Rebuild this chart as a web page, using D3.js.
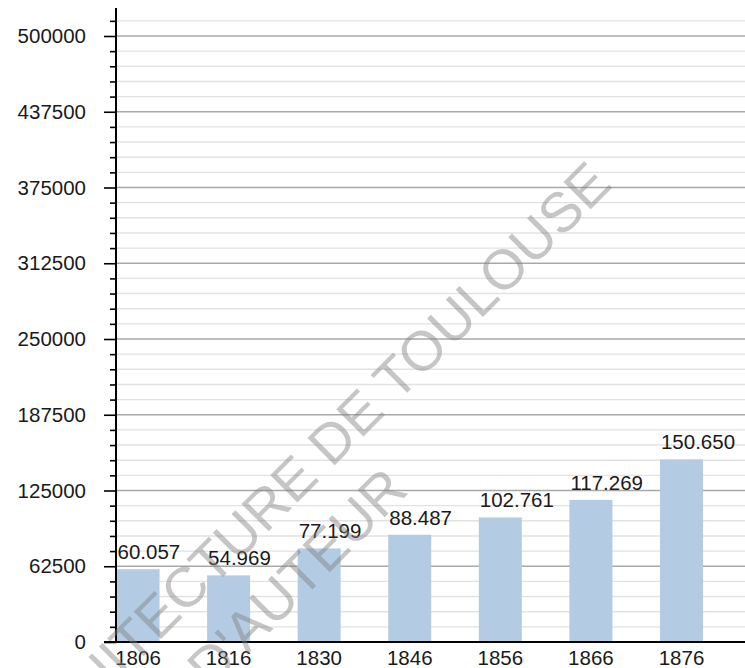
<!DOCTYPE html>
<html>
<head>
<meta charset="utf-8">
<script src="https://cdn.jsdelivr.net/npm/d3@7/dist/d3.min.js"></script>
<style>
  html, body { margin: 0; padding: 0; background: #fff; }
  svg { display: block; font-family: "Liberation Sans", Arial, sans-serif; }
</style>
</head>
<body>
<svg id="chart" width="745" height="668"></svg>
<script>
const years = ["1806", "1816", "1830", "1846", "1856", "1866", "1876"];
const population = [60057, 54969, 77199, 88487, 102761, 117269, 150650];
const yTicks = [0, 62500, 125000, 187500, 250000, 312500, 375000, 437500, 500000];
const watermarkLines = ["ARCHITECTURE DE TOULOUSE", "D'AUTEUR"];

const svg = d3.select("#chart");
const W = 745, H = 668;
const axisX = 116, axisTop = 8;

const y = d3.scaleLinear().domain([0, 500000]).range([642, 36]);
const x = d3.scaleBand().domain(years).range([116.5, 703]).paddingInner(0.525).paddingOuter(0);

const minorVals = d3.range(0, 512501, 12500);
const fmt = d3.formatLocale({decimal: ",", thousands: ".", grouping: [3], currency: ["", ""]}).format(",d");

// gridlines
svg.append("g").selectAll("line").data(minorVals.filter(v => v % 62500 !== 0))
  .join("line")
  .attr("x1", axisX).attr("x2", W)
  .attr("y1", d => y(d)).attr("y2", d => y(d))
  .attr("stroke", "#e2e2e2").attr("stroke-width", 1.4);
svg.append("g").selectAll("line").data(yTicks.filter(v => v > 0))
  .join("line")
  .attr("x1", axisX).attr("x2", W)
  .attr("y1", d => y(d)).attr("y2", d => y(d))
  .attr("stroke", "#a8a8a8").attr("stroke-width", 1.4);

// bars
svg.append("g").selectAll("rect").data(population)
  .join("rect")
  .attr("x", (d, i) => x(years[i]))
  .attr("width", x.bandwidth())
  .attr("y", d => y(d))
  .attr("height", d => y(0) - y(d))
  .attr("fill", "#b3cce3");

// value labels
svg.append("g").selectAll("text").data(population)
  .join("text")
  .attr("x", (d, i) => x(years[i]) + 1)
  .attr("y", d => y(d) - 10)
  .attr("font-size", 20.5)
  .attr("fill", "#1a1a1a")
  .text(d => fmt(d));

// y axis minor ticks
const yMinor = svg.append("g").attr("transform", `translate(${axisX},0)`)
  .call(d3.axisLeft(y).tickValues(minorVals.filter(v => v % 62500 !== 0)).tickSize(6).tickFormat(""));
yMinor.select(".domain").remove();
yMinor.selectAll(".tick line").attr("stroke", "#000").attr("stroke-width", 1.6);

// y axis major ticks
const yMajor = svg.append("g").attr("transform", `translate(${axisX},0)`)
  .call(d3.axisLeft(y).tickValues(yTicks).tickSize(12).tickPadding(18).tickFormat(d3.format("d")));
yMajor.select(".domain").remove();
yMajor.selectAll(".tick line").attr("stroke", "#000").attr("stroke-width", 1.6);
yMajor.selectAll(".tick text").attr("font-size", 20.5).attr("fill", "#1a1a1a")
  .attr("font-family", "Liberation Sans, Arial, sans-serif");

// y axis line
svg.append("line").attr("x1", axisX).attr("x2", axisX)
  .attr("y1", axisTop).attr("y2", y(0) + 1)
  .attr("stroke", "#000").attr("stroke-width", 2);

// x axis
const xAxis = svg.append("g").attr("transform", `translate(0,${y(0)})`)
  .call(d3.axisBottom(x).tickSize(0).tickPadding(8));
xAxis.select(".domain").remove();
xAxis.selectAll(".tick text").attr("font-size", 20.5).attr("fill", "#1a1a1a")
  .attr("font-family", "Liberation Sans, Arial, sans-serif");
svg.append("line").attr("x1", 104).attr("x2", W)
  .attr("y1", y(0)).attr("y2", y(0))
  .attr("stroke", "#000").attr("stroke-width", 1.8);

// watermark
const wm = svg.append("g").attr("fill", "#808080").attr("fill-opacity", 0.45)
  .attr("font-size", 56).attr("font-family", "Liberation Sans, Arial, sans-serif");
wm.append("text").attr("text-anchor", "end")
  .attr("transform", "translate(614,186) rotate(-45)")
  .text(watermarkLines[0]);
wm.append("text").attr("text-anchor", "end")
  .attr("transform", "translate(410,492) rotate(-45)")
  .text(watermarkLines[1]);
</script>
</body>
</html>
